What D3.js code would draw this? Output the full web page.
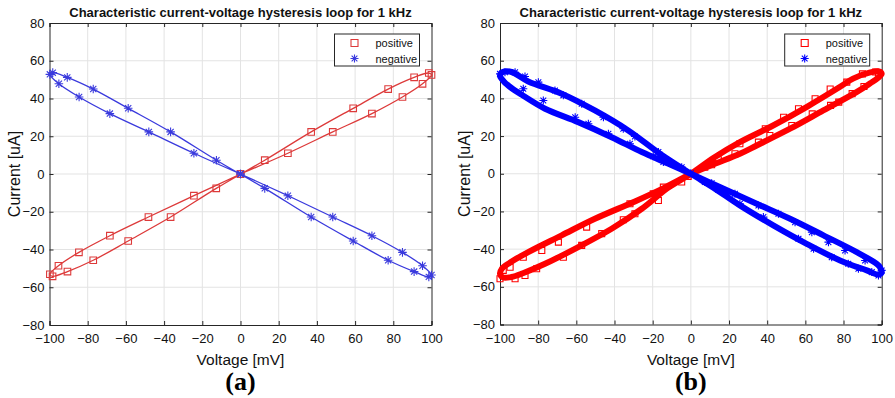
<!DOCTYPE html>
<html>
<head>
<meta charset="utf-8">
<script src="https://cdn.jsdelivr.net/npm/d3@7.9.0/dist/d3.min.js"></script>
<style>
  body { margin: 0; background: #fff; }
  svg { display: block; font-family: "Liberation Sans", Arial, sans-serif; }
</style>
</head>
<body>
<svg></svg>
<script>
const width = 895;
const height = 398;

const titleText = "Characteristic current-voltage hysteresis loop for 1 kHz";
const xTicks = [-100, -80, -60, -40, -20, 0, 20, 40, 60, 80, 100];
const yTicks = [-80, -60, -40, -20, 0, 20, 40, 60, 80];
const seriesNames = ["positive", "negative"];

// panel (a): one sampled cycle, a marker on every point
const posVoltA = [0, 24.8, 48.3, 68.8, 84.8, 95.3, 100, 98.6, 90.9, 77.3, 59, 37, 12.7,
  -12.7, -36.6, -58.8, -77.1, -90.6, -98.4, -99.8, -95.3, -84.6, -68.4, -48.2, -24.4, 0];
const posCurrA = [0, 11, 22.3, 32, 40.8, 47.8, 52.5, 53.5, 51.2, 45, 34.8, 22.3, 7.3,
  -7.6, -22.8, -35.5, -45.7, -51.7, -54.2, -53.1, -48.6, -41.5, -32.7, -22.8, -11.5, 0];
const negVoltA = [0, -24.4, -48, -68.4, -84.5, -95.1, -99.8, -98.3, -90.7, -77.1, -58.8, -36.6, -12.6,
  12.7, 37, 59, 77.3, 90.9, 98.6, 100, 95.3, 84.8, 68.8, 48.3, 24.8, 0];
const negCurrA = [0, 11, 22.3, 32, 40.8, 47.8, 52.8, 53.7, 51.2, 45, 34.8, 22.3, 7.3,
  -7.6, -22.8, -35.5, -45.7, -51.7, -54.5, -53.5, -48.6, -41.5, -32.7, -22.8, -11.5, 0];

// panel (b): the loop traced by many overlapping cycles
const posVoltB = [0, 12, 25.7, 34.5, 52, 69.4, 86.8, 94, 98, 100, 98.5, 94, 85, 78, 60.6, 43.1, 25.7, 12, 0,
  -12, -25.7, -41.5, -59, -76.4, -88, -94, -98.5, -100, -99, -95, -85.2, -67.7, -50.3, -29.3, -14, 0];
const posCurrB = [0, 5, 10.6, 15, 23.9, 33.6, 43.3, 48, 50.8, 53, 54.3, 53.8, 50.5, 46, 35.4, 25.6, 16.8, 8.5, 0,
  -7.5, -18.6, -29.2, -38.9, -47.8, -52.8, -54.8, -55, -53, -50.4, -47.3, -41.6, -32.7, -23.9, -14.7, -7.5, 0];
const negVoltB = [0, -12, -25.7, -41.5, -59, -76.4, -88, -94, -98, -100, -98.5, -94, -85.2, -67.7, -50.3, -32.8, -16, 0,
  12, 25.7, 43.2, 60.7, 78.2, 92.2, 98, 100, 99, 97.4, 86.9, 69.5, 52, 34.5, 14, 0];
const negCurrB = [0, 5.5, 11.5, 19.4, 27.4, 34.5, 41.5, 45.5, 49, 52, 54, 54, 49, 42.5, 33.6, 23, 10.5, 0,
  -7.5, -16.8, -27.4, -37.2, -46, -51.3, -53.5, -52.5, -49.5, -47.8, -41.6, -32.7, -23.9, -15.9, -6.5, 0];

// panel (b) marker positions
const posMarkVoltB = [98.3, 96.8, 89.9, 90.7, 84.5, 81.7, 77.5, 73, 73.2, 65.1, 63.6, 56.4, 52.9, 48.6, 41.4, 39, 35.4,
  25.7, 23.1, 14.4, 10.9, 7.3, -1.4, -4.8, -14.4, -19.7, -17, -29.3, -31.9, -35.4, -46.7, -54.6, -57.2, -66.8,
  -69.4, -78.1, -80.8, -87.8, -86.9, -92.1, -94.7, -98.3, -100];
const posMarkCurrB = [53.4, 54, 53, 46.3, 42.5, 48.6, 38, 45, 36.3, 39.8, 31.8, 34.5, 25.6, 30, 20.3, 23.9, 16.8,
  15.9, 10.6, 7.4, 4.8, 3.5, -1.4, -4.4, -7.1, -10.6, -14.2, -21.2, -15.9, -24.4, -31.8, -28.3, -38, -44.3,
  -36.3, -40.7, -50.4, -44.3, -54, -55.7, -49.6, -51.3, -55.7];
const negMarkVoltB = [-100, -97.4, -92.1, -86.9, -87.8, -79.9, -77.3, -71.2, -66.8, -60.6, -57.2, -53.7, -45.8, -43.2,
  -35.4, -31.9, -29.3, -19.7, -17, -14.4, -4.8, 0, 7.3, 10.9, 14.4, 23.1, 25.7, 35.4, 38, 45.9, 54.6, 56.4, 63.4,
  64.3, 72.1, 73.8, 80.8, 82.5, 87.8, 91.3, 94.8, 98.3, 100];
const negMarkCurrB = [53, 53.9, 53.9, 51.6, 45.1, 48.6, 38.9, 44.2, 41.6, 30, 37.2, 26.5, 30, 21.2,
  23.9, 15.9, 19.8, 9.3, 11.5, 6.2, 3.5, 0.3, -4.4, -5, -8.5, -10.6, -15.9, -16.8, -23, -21.2, -25.7, -34.5, -31,
  -39.8, -36.3, -44.3, -40.7, -47.8, -50.4, -46, -52.2, -54, -51.3];

const zip = (xs, ys) => xs.map((x, i) => ({ v: x, c: ys[i] }));

const svg = d3.select("svg")
  .attr("width", width)
  .attr("height", height);

const starPath = r => {
  const d = r * 0.72;
  return `M${-r},0H${r}M0,${-r}V${r}M${-d},${-d}L${d},${d}M${-d},${d}L${d},${-d}`;
};

function drawPanel(p) {
  const x = d3.scaleLinear().domain([-100, 100]).range([p.left, p.right]);
  const y = d3.scaleLinear().domain([-80, 80]).range([p.bottom, p.top]);
  const g = svg.append("g");

  // grid
  g.append("g").selectAll("line")
    .data(xTicks.slice(1, -1))
    .join("line")
    .attr("x1", d => x(d)).attr("x2", d => x(d))
    .attr("y1", p.top).attr("y2", p.bottom)
    .attr("stroke", "#e3e3e3");
  g.append("g").selectAll("line")
    .data(yTicks.slice(1, -1))
    .join("line")
    .attr("y1", d => y(d)).attr("y2", d => y(d))
    .attr("x1", p.left).attr("x2", p.right)
    .attr("stroke", "#e3e3e3");

  // axes (ticks point inward, mirrored on top/right)
  const fmt = d3.format("d");
  const axes = [
    [d3.axisBottom(x).tickValues(xTicks).tickFormat(fmt).tickSize(-4).tickPadding(9), `translate(0,${p.bottom})`],
    [d3.axisTop(x).tickValues(xTicks).tickFormat("").tickSize(-4), `translate(0,${p.top})`],
    [d3.axisLeft(y).tickValues(yTicks).tickFormat(fmt).tickSize(-4).tickPadding(5), `translate(${p.left},0)`],
    [d3.axisRight(y).tickValues(yTicks).tickFormat("").tickSize(-4), `translate(${p.right},0)`]
  ];
  axes.forEach(([ax, tr]) => {
    const a = g.append("g").attr("transform", tr).call(ax);
    a.select(".domain").attr("stroke", "#262626");
    a.selectAll(".tick line").attr("stroke", "#262626");
    a.selectAll("text")
      .attr("font-family", "Liberation Sans, Arial, sans-serif")
      .attr("font-size", 13)
      .attr("fill", "#111");
  });

  const line = d3.line()
    .x(d => x(d.v))
    .y(d => y(d.c))
    .curve(d3.curveCatmullRom);

  p.series.forEach(s => {
    g.append("path")
      .attr("fill", "none")
      .attr("stroke", s.color)
      .attr("stroke-width", p.lineWidth)
      .attr("stroke-linejoin", "round")
      .attr("d", line(s.data));

    const m = g.append("g").selectAll("path")
      .data(s.marks)
      .join("path")
      .attr("transform", d => `translate(${x(d.v)},${y(d.c)})`)
      .attr("fill", "none")
      .attr("stroke", s.color)
      .attr("stroke-width", 1.1);
    if (s.shape === "square") {
      m.attr("d", `M${-p.markSize},${-p.markSize}h${2 * p.markSize}v${2 * p.markSize}h${-2 * p.markSize}Z`);
    } else {
      m.attr("d", starPath(p.markSize + 1));
    }
  });

  // title
  g.append("text")
    .attr("x", (p.left + p.right) / 2)
    .attr("y", 16.5)
    .attr("text-anchor", "middle")
    .attr("font-weight", "bold")
    .attr("font-size", 13)
    .attr("fill", "#111")
    .text(titleText);

  // axis labels
  g.append("text")
    .attr("x", (p.left + p.right) / 2)
    .attr("y", 365)
    .attr("text-anchor", "middle")
    .attr("font-size", 15.5)
    .attr("fill", "#111")
    .text("Voltage [mV]");
  g.append("text")
    .attr("transform", `translate(${p.left - 30},${(p.top + p.bottom) / 2}) rotate(-90)`)
    .attr("text-anchor", "middle")
    .attr("font-size", 16)
    .attr("fill", "#111")
    .text("Current [uA]");

  g.append("text")
    .attr("x", (p.left + p.right) / 2)
    .attr("y", 390)
    .attr("text-anchor", "middle")
    .attr("font-family", "Liberation Serif, Times New Roman, serif")
    .attr("font-weight", "bold")
    .attr("font-size", 26)
    .attr("fill", "#000")
    .text(p.tag);

  // legend
  const lx = p.right - 97, ly = 34;
  const leg = g.append("g").attr("transform", `translate(${lx},${ly})`);
  leg.append("rect")
    .attr("width", 85).attr("height", 32)
    .attr("fill", "#fff").attr("stroke", "#262626");
  p.series.forEach((s, i) => {
    const yy = 9 + i * 15.5;
    const mk = leg.append("path")
      .attr("transform", `translate(20,${yy})`)
      .attr("fill", "none")
      .attr("stroke", s.color)
      .attr("stroke-width", 1.1);
    if (s.shape === "square") mk.attr("d", "M-3.5,-3.5h7v7h-7Z");
    else mk.attr("d", starPath(4));
    leg.append("text")
      .attr("x", 41).attr("y", yy + 4)
      .attr("font-size", 11)
      .attr("fill", "#111")
      .text(seriesNames[i]);
  });
}

drawPanel({
  left: 49.5, right: 431.5, top: 23, bottom: 325, tag: "(a)",
  lineWidth: 1.3, markSize: 3.3,
  series: [
    { color: "#dd3a3a", shape: "square", data: zip(posVoltA, posCurrA), marks: zip(posVoltA, posCurrA) },
    { color: "#3a3add", shape: "star", data: zip(negVoltA, negCurrA), marks: zip(negVoltA, negCurrA) }
  ]
});

drawPanel({
  left: 500, right: 881.7, top: 23, bottom: 324.5, tag: "(b)",
  lineWidth: 6, markSize: 3,
  series: [
    { color: "#ff0000", shape: "square", data: zip(posVoltB, posCurrB), marks: zip(posMarkVoltB, posMarkCurrB) },
    { color: "#0000ff", shape: "star", data: zip(negVoltB, negCurrB), marks: zip(negMarkVoltB, negMarkCurrB) }
  ]
});
</script>
</body>
</html>
